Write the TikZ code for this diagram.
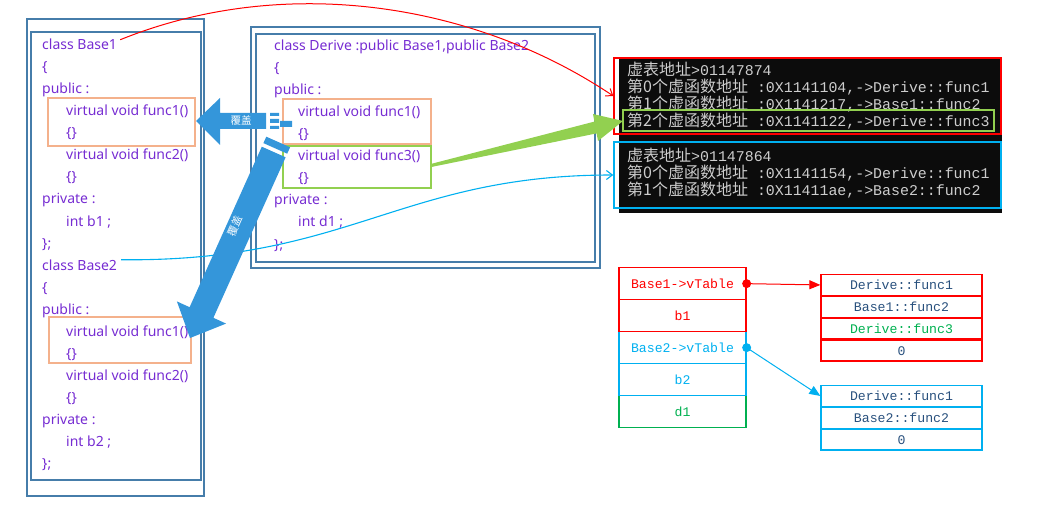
\documentclass[tikz,border=0pt]{standalone}
\usepackage{fontspec}
\setmainfont{Noto Sans}
\setmonofont{Liberation Mono}
\newfontfamily\cjk{Noto Sans CJK SC}
\usetikzlibrary{arrows.meta}
\definecolor{codeviolet}{RGB}{118,44,210}
\definecolor{panelblue}{RGB}{70,125,170}
\definecolor{peach}{RGB}{244,177,140}
\definecolor{leafgreen}{RGB}{146,208,80}
\definecolor{bigblue}{RGB}{52,150,218}
\definecolor{skyblue}{RGB}{0,176,240}
\definecolor{slotgreen}{RGB}{0,176,80}
\definecolor{entryblue}{RGB}{40,80,125}
\definecolor{consgrey}{RGB}{205,205,205}
\definecolor{consblack}{RGB}{12,12,12}
\newcommand{\zh}[1]{{\cjk\fontsize{16}{17}\selectfont #1}}

\begin{document}
\begin{tikzpicture}[x=1pt,y=-1pt,
  code/.style={anchor=base west,inner sep=0pt,text=codeviolet,font=\fontsize{14}{16}\selectfont},
  panel/.style={draw=panelblue,line width=1.5pt},
  fnbox/.style={line width=1.4pt},
  cons/.style={anchor=base west,inner sep=0pt,text=consgrey,font=\fontsize{14.9}{17}\selectfont\ttfamily},
  slot/.style={draw,line width=1.3pt,minimum width=127pt,minimum height=32pt,inner sep=0pt,anchor=north,font=\fontsize{13.2}{15}\selectfont\ttfamily},
  entry/.style={draw,line width=1.3pt,minimum width=161pt,minimum height=20.6pt,inner sep=0pt,anchor=north,text=entryblue,font=\fontsize{13.2}{15}\selectfont\ttfamily},
  cover/.style={text=white,inner sep=0pt,font=\cjk\fontsize{10.5}{12}\selectfont}]
\useasboundingbox (0,0) rectangle (1044,513);

% source code of the three classes
\draw[panel] (27,19) rectangle (204,496);
\draw[panel] (31,32) rectangle (201,480);
\draw[panel] (251,27) rectangle (600,268);
\draw[panel] (256,34) rectangle (595,262);
\foreach \ind/\txt [count=\k] in {0/class Base1, 0/\{, 0/public :, 1/virtual void func1(), 1/\{\}, 1/virtual void func2(), 1/\{\}, 0/private :, 1/int b1 ;, 0/\};, 0/class Base2, 0/\{, 0/public :, 1/virtual void func1(), 1/\{\}, 1/virtual void func2(), 1/\{\}, 0/private :, 1/int b2 ;, 0/\};}
  \node[code] (ba\k) at (42+24*\ind, 28+22*\k) {\txt};
\foreach \ind/\txt [count=\k] in {0/{class Derive :public Base1,public Base2}, 0/\{, 0/public :, 1/virtual void func1(), 1/\{\}, 1/virtual void func3(), 1/\{\}, 0/private :, 1/int d1 ;, 0/\};}
  \node[code] (dv\k) at (274+24*\ind, 29+22*\k) {\txt};
\draw[fnbox,peach] (48,98) rectangle (195,146);
\draw[fnbox,peach] (49,317) rectangle (191,363);
\draw[fnbox,peach] (283,99) rectangle (431,144);
\draw[fnbox,leafgreen] (283,146) rectangle (431,188);

% console output
\fill[consblack] (619,58) rectangle (1002,213);
\node[cons] (c1) at (627,76) {\zh{虚表地址}>01147874};
\node[cons] (c2) at (627,93) {\zh{第0个虚函数地址}\ :0X1141104,->Derive::func1};
\node[cons] (c3) at (627,110) {\zh{第1个虚函数地址}\ :0X1141217,->Base1::func2};
\node[cons] (c4) at (627,127) {\zh{第2个虚函数地址}\ :0X1141122,->Derive::func3};
\node[cons] (c5) at (627,162) {\zh{虚表地址}>01147864};
\node[cons] (c6) at (627,179) {\zh{第0个虚函数地址}\ :0X1141154,->Derive::func1};
\node[cons] (c7) at (627,196) {\zh{第1个虚函数地址}\ :0X11411ae,->Base2::func2};
\node[draw=red,line width=1.4pt,minimum width=387pt,minimum height=76pt,inner sep=0pt] (vt1) at (807.5,96) {};
\node[draw=skyblue,line width=1.4pt,minimum width=387pt,minimum height=66pt,inner sep=0pt] (vt2) at (807.5,175) {};
\draw[leafgreen,line width=1.2pt] (623,110) rectangle (994,131);

% object layout and the two tables
\node[slot,draw=slotgreen,text=slotgreen] (m5) at (682.5,395) {d1};
\node[slot,draw=skyblue,text=skyblue] (m3) at (682.5,331) {Base2->vTable};
\node[slot,draw=skyblue,text=skyblue] (m4) at (682.5,363) {b2};
\node[slot,draw=red,text=red] (m1) at (682.5,267) {Base1->vTable};
\node[slot,draw=red,text=red] (m2) at (682.5,299) {b1};
\node[entry,draw=red] (t1) at (901.5,274) {Derive::func1};
\node[entry,draw=red] (t2) at (t1.south) {Base1::func2};
\node[entry,draw=red,text=slotgreen] (t3) at (t2.south) {Derive::func3};
\node[entry,draw=red] (t4) at (t3.south) {0};
\node[entry,draw=skyblue] (u1) at (901.5,385) {Derive::func1};
\node[entry,draw=skyblue] (u2) at (u1.south) {Base2::func2};
\node[entry,draw=skyblue] (u3) at (u2.south) {0};
\fill[red] (m1.east) circle (4.5pt);
\fill[skyblue] (m3.east) circle (4.5pt);
\draw[red,line width=1pt,-{Triangle[length=11pt,width=9pt]}] (m1.east) -- (t1.west);
\draw[skyblue,line width=1pt,-{Triangle[length=11pt,width=9pt]}] (m3.east) -- (u1.west);

% thin links from the classes to their tables
\draw[skyblue,line width=1.1pt,-{Straight Barb[length=6pt,width=9pt]}] (ba11.east) ++(4,-5) .. controls (350,262) and (400,175) .. (vt2.west);
\draw[red,line width=1pt,-{Straight Barb[length=6pt,width=9pt]}] (ba1.east) ++(3,-5) .. controls (280,-25) and (470,0) .. (vt1.west);

% overriding arrows
\fill[bigblue] (196,121) -- (220,98) -- (220,113) -- (266,113) -- (266,129) -- (220,129) -- (220,145) -- cycle;
\fill[bigblue] (270,113) rectangle (279,116) (270,119) rectangle (279,123) (270,126) rectangle (279,129) (280,121) rectangle (292,127);
\node[cover] (cv1) at (241,121) {覆盖};
\fill[bigblue] (190,338) -- (226.1,323.6) -- (213.4,317.8) -- (285.6,157.3) -- (261.8,146.7) -- (189.6,307.2) -- (176.9,301.4) -- cycle;
\fill[bigblue] (287.2,153.7) -- (290.1,147.3) -- (266.3,136.7) -- (263.4,143.1) -- cycle;
\node[cover,rotate=66] (cv2) at (235,226) {覆盖};
\fill[leafgreen] (430.7,164) -- (594.4,121.6) -- (593,114) -- (623,121) -- (598,141) -- (596.6,133.4) -- (431.3,167) -- cycle;
\end{tikzpicture}
\end{document}
